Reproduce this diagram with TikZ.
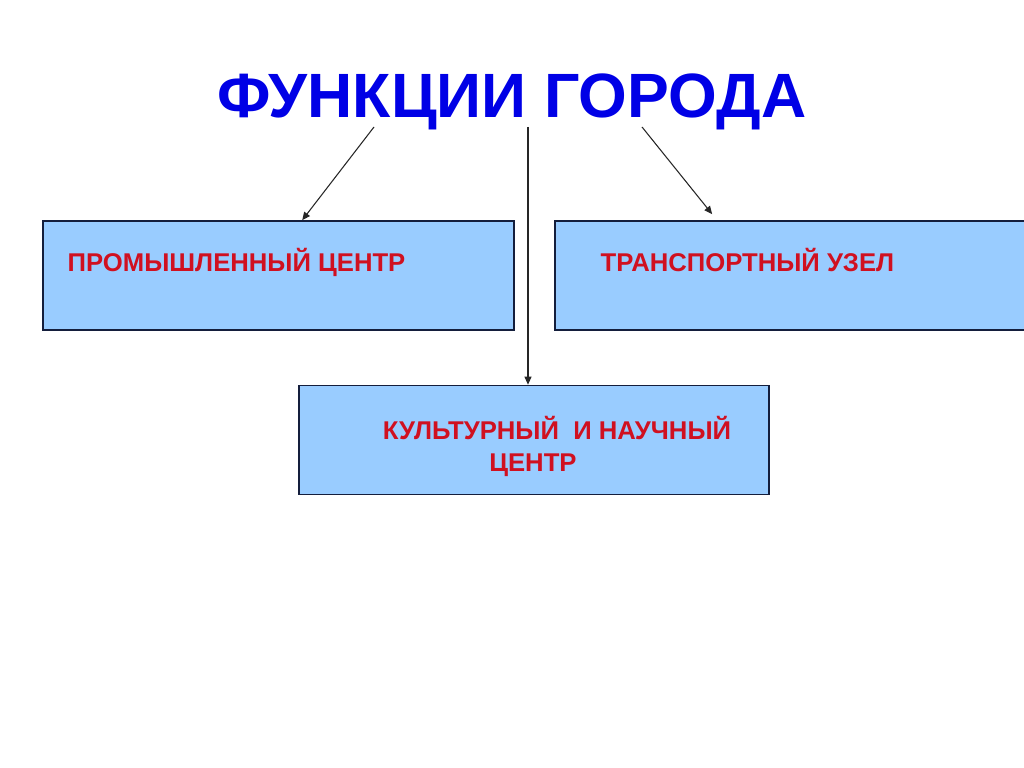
\documentclass[tikz,border=0pt]{standalone}
\usepackage{fontspec}
\setmainfont{Liberation Sans}
\usetikzlibrary{arrows.meta}
\definecolor{boxblue}{RGB}{153,204,255}
\definecolor{boxline}{RGB}{20,30,60}
\definecolor{titleblue}{RGB}{0,0,230}
\definecolor{labelred}{RGB}{208,16,32}
\begin{document}
\begin{tikzpicture}[
  x=0.01cm, y=-0.01cm,
  box/.style={rectangle, draw=boxline, line width=0.45pt, fill=boxblue, minimum height=1.09cm, inner sep=0pt},
  label text/.style={font=\fontsize{7.3pt}{9pt}\selectfont\bfseries, text=labelred, inner sep=0pt},
  arr/.style={-{Triangle[length=0.8mm,width=0.7mm]}, line width=0.3pt, draw=black!85}
]
\useasboundingbox[fill=white] (0,0) rectangle (1024,768);
\node[font=\fontsize{17.8pt}{20pt}\selectfont\bfseries, text=titleblue, anchor=base, inner sep=0pt] (title) at (512,118) {ФУНКЦИИ ГОРОДА};
\node[box, minimum width=4.71cm] (industry) at (278.5,275.5) {};
\node[box, minimum width=4.80cm] (transport) at (795,275.5) {};
\node[box, minimum width=4.70cm] (culture) at (534,440) {};
\node[label text, anchor=base west] (industrytext) at (67,272) {ПРОМЫШЛЕННЫЙ ЦЕНТР};
\node[label text, anchor=base west] (transporttext) at (600,272) {ТРАНСПОРТНЫЙ УЗЕЛ};
\node[label text, align=center, anchor=north] (culturetext) at (557,416) {КУЛЬТУРНЫЙ \ И НАУЧНЫЙ\\\hspace*{-0.48cm}ЦЕНТР};
\coordinate (s1) at (374,127);
\coordinate (s2) at (642,127);
\coordinate (s3) at (528,127);
\draw[arr] (s1) -- ([xshift=2.6cm]industry.north west);
\draw[arr] (s2) -- ([xshift=1.58cm,yshift=0.06cm]transport.north west);
\draw[arr] (s3) -- (s3 |- culture.north);
\end{tikzpicture}
\end{document}
